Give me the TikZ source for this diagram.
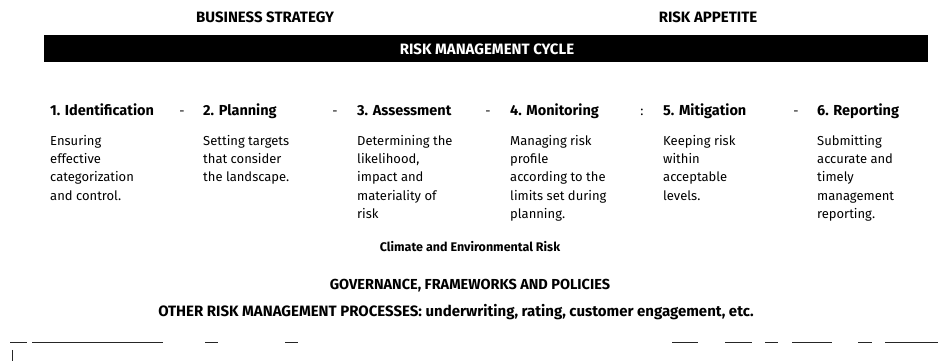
\documentclass[tikz,border=0pt]{standalone}
\usepackage{fontspec}
\setmainfont{Fira Sans}
\begin{document}
\begin{tikzpicture}[x=1pt,y=-1pt,
  toplabel/.style={font=\fontsize{15}{18}\selectfont\bfseries, inner sep=0pt, anchor=base},
  head/.style={font=\fontsize{14.5}{17}\selectfont\bfseries, anchor=base west, inner sep=0pt},
  body/.style={font=\fontsize{13}{18.3}\selectfont, anchor=north west, align=left, inner sep=0pt},
  sep/.style={font=\fontsize{13}{15}\selectfont, inner sep=0pt, anchor=base},
  mid/.style={font=\fontsize{14.5}{17}\selectfont\bfseries, inner sep=0pt, anchor=base},
  rule/.style={line width=0.8pt, black!85}]
\useasboundingbox (0,0) rectangle (951,363);
\node[toplabel] (bs) at (265,23) {BUSINESS STRATEGY};
\node[toplabel] (ra) at (708,23) {RISK APPETITE};
\node[fill=black, minimum width=884pt, minimum height=27pt, inner sep=0pt] (bar) at (486,48.5) {};
\node[toplabel, text=white] (rmc) at (487,55) {RISK MANAGEMENT CYCLE};

\node[head] (h1) at (50,116) {1. Identification};
\node[head] (h2) at (203,116) {2. Planning};
\node[head] (h3) at (357,116) {3. Assessment};
\node[head] (h4) at (510,116) {4. Monitoring};
\node[head] (h5) at (663,116) {5. Mitigation};
\node[head] (h6) at (817,116) {6. Reporting};

\node[sep] (s1) at (182,116) {-};
\node[sep] (s2) at (335,116) {-};
\node[sep] (s3) at (488,116) {-};
\node[sep] (s4) at (642,116) {:};
\node[sep] (s5) at (796,116) {-};

\node[body] (b1) at (50,132.2) {\strut Ensuring\\effective\\categorization\\and control.};
\node[body] (b2) at (203,132.2) {\strut Setting targets\\that consider\\the landscape.};
\node[body] (b3) at (357,132.2) {\strut Determining the\\likelihood,\\impact and\\materiality of\\risk};
\node[body] (b4) at (510,132.2) {\strut Managing risk\\profile\\according to the\\limits set during\\planning.};
\node[body] (b5) at (663,132.2) {\strut Keeping risk\\within\\acceptable\\levels.};
\node[body] (b6) at (817,132.2) {\strut Submitting\\accurate and\\timely\\management\\reporting.};

\node[mid, font=\fontsize{12.5}{15}\selectfont\bfseries] (cer) at (470,252) {Climate and Environmental Risk};
\node[mid] (gov) at (470,290) {GOVERNANCE, FRAMEWORKS AND POLICIES};
\node[mid, font=\fontsize{15}{18}\selectfont\bfseries] (orm) at (456,317) {OTHER RISK MANAGEMENT PROCESSES: underwriting, rating, customer engagement, etc.};

\foreach \a/\b in {10/27, 32/163, 205/218, 285/298, 672/698, 725/752, 765/778, 792/832, 858/872, 885/938}
  \draw[rule] (\a,342) -- (\b,342);
\draw[rule] (12,350) -- (12,361);
\end{tikzpicture}
\end{document}
